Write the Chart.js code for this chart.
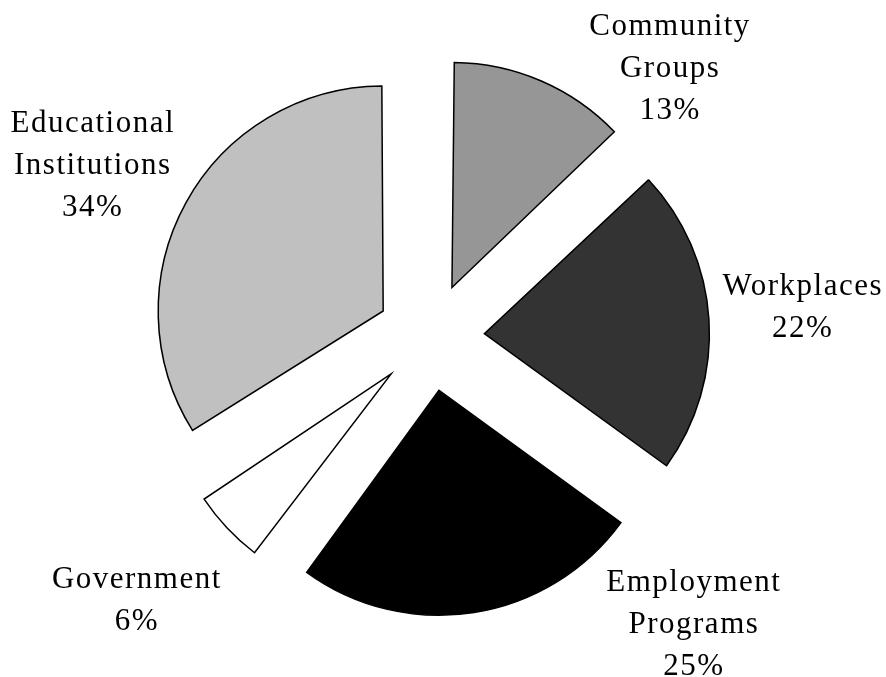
<!DOCTYPE html>
<html>
<head>
<meta charset="utf-8">
<script src="https://cdn.jsdelivr.net/npm/chart.js@4"></script>
<style>
  html, body { margin: 0; padding: 0; background: #fff; }
  #wrap { width: 886px; height: 677px; position: relative; }
</style>
</head>
<body>
<div id="wrap"><canvas id="c"></canvas></div>
<script>
// Where the training happens, share of total (%)
const categories = ['Community Groups', 'Workplaces', 'Employment Programs', 'Government', 'Educational Institutions'];
const shares = [13, 22, 25, 6, 34];
const labelLines = [['Community', 'Groups'], ['Workplaces'], ['Employment', 'Programs'], ['Government'], ['Educational', 'Institutions']];
const sliceColors = ['#969696', '#333333', '#000000', '#ffffff', '#c0c0c0'];

const PIE_RADIUS = 225;
const EXPLODE = 54;          // how far each slice is pulled away from the centre
const LINE_GAP = 42;
const LETTER_SPACING = 1.5;
// first-baseline position of each label, relative to the outer point of its slice's bisector
const labelShift = [[128, -46], [93, -24.5], [219, -21.6], [-91, 60], [-94, -70.6]];

// Chart.js grows narrow exploded arcs; keep every slice at the same radius
const evenRadius = {
  id: 'evenRadius',
  beforeDatasetDraw(chart, args) {
    const meta = args.meta;
    const base = meta.controller.outerRadius;
    meta.data.forEach(arc => {
      const off = (arc.options.offset || 0) / 4;
      const fix = 1 - Math.sin(Math.min(Math.PI, arc.circumference));
      arc.outerRadius = base - off * fix;
    });
  }
};

const sliceLabels = {
  id: 'sliceLabels',
  afterDraw(chart) {
    const ctx = chart.ctx;
    const meta = chart.getDatasetMeta(0);
    ctx.save();
    ctx.font = '31px "Liberation Serif", serif';
    ctx.letterSpacing = LETTER_SPACING + 'px';
    ctx.fillStyle = '#000';
    ctx.textAlign = 'center';
    ctx.textBaseline = 'alphabetic';
    meta.data.forEach((arc, i) => {
      const mid = (arc.startAngle + arc.endAngle) / 2;
      const reach = PIE_RADIUS + EXPLODE;
      const bx = arc.x + Math.cos(mid) * reach;
      const by = arc.y + Math.sin(mid) * reach;
      const lines = [...labelLines[i], shares[i] + '%'];
      const [dx, dy] = labelShift[i];
      lines.forEach((t, k) => {
        ctx.fillText(t, bx + dx + LETTER_SPACING / 2, by + dy + k * LINE_GAP);
      });
    });
    ctx.restore();
  }
};

new Chart(document.getElementById('c'), {
  type: 'pie',
  data: {
    labels: categories,
    datasets: [{
      data: shares,
      backgroundColor: sliceColors,
      borderColor: '#000000',
      borderWidth: 1.5,
      borderJoinStyle: 'miter',
      offset: EXPLODE * 4,
      hoverOffset: 0
    }]
  },
  options: {
    responsive: true,
    maintainAspectRatio: false,
    animation: false,
    radius: PIE_RADIUS,
    layout: { padding: { left: 0, right: 25, top: 0, bottom: 3 } },
    events: [],
    plugins: {
      legend: { display: false },
      tooltip: { enabled: false }
    }
  },
  plugins: [evenRadius, sliceLabels]
});
</script>
</body>
</html>
